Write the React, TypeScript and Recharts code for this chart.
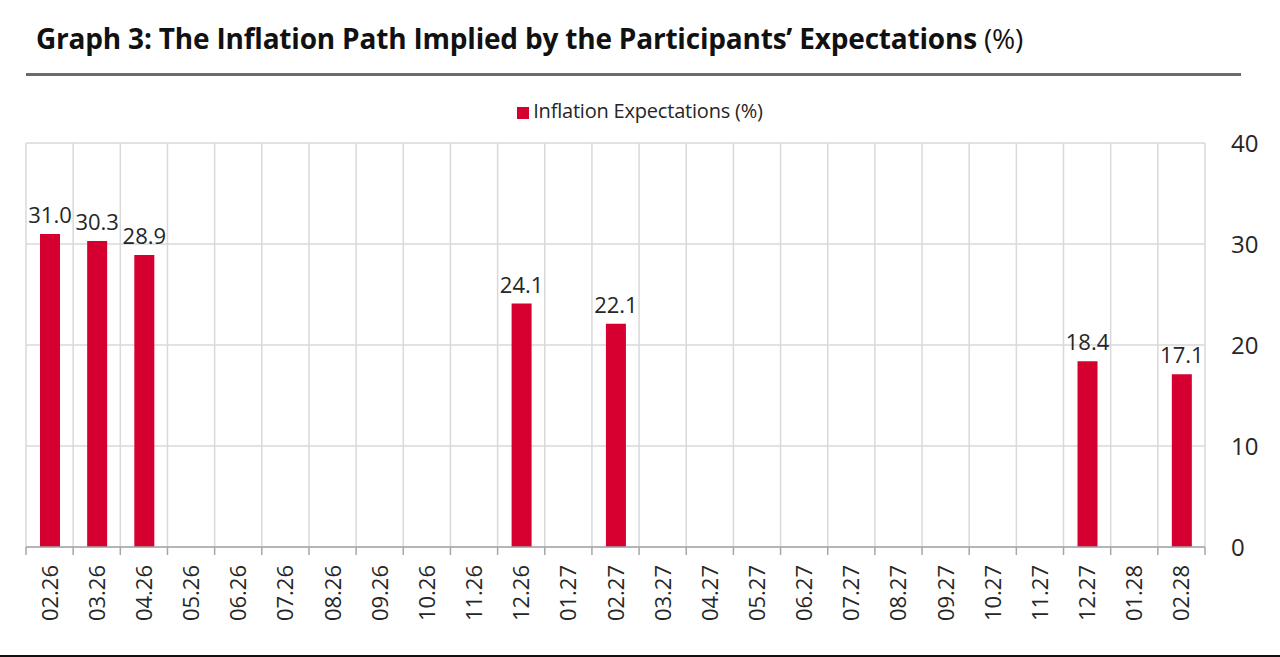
import React from "react";
import { BarChart, Bar, XAxis, YAxis, CartesianGrid, LabelList } from "recharts";

const categories = ["02.26","03.26","04.26","05.26","06.26","07.26","08.26","09.26","10.26","11.26","12.26","01.27","02.27","03.27","04.27","05.27","06.27","07.27","08.27","09.27","10.27","11.27","12.27","01.28","02.28"];
const values: (number | null)[] = [31.0,30.3,28.9,null,null,null,null,null,null,null,24.1,null,22.1,null,null,null,null,null,null,null,null,null,18.4,null,17.1];
const yTicks = [0, 10, 20, 30, 40];
const seriesName = "Inflation Expectations (%)";

const data = categories.map((c, i) => ({ cat: c, v: values[i] }));

const W = 1280;
const H = 657;
const M = { top: 143, right: 20, bottom: 0, left: 26 };
const YW = 55;
const XH = 110;
const plotLeft = M.left;
const plotRight = W - M.right - YW;
const band = (plotRight - plotLeft) / categories.length;
const RED = "#D5002F";
const FONT = "'Open Sans', 'Noto Sans', sans-serif";

const XTick = (props: any) => {
  const { x, y, payload, index } = props;
  const half = band / 2;
  return (
    <g>
      <line x1={x - half} x2={x - half} y1={y - 8} y2={y} stroke="#a6a6a6" strokeWidth={1.5} />
      {index === categories.length - 1 && (
        <line x1={x + half} x2={x + half} y1={y - 8} y2={y} stroke="#a6a6a6" strokeWidth={1.5} />
      )}
      <text
        x={0}
        y={0}
        transform={`translate(${x + 8},${y + 10}) rotate(-90)`}
        textAnchor="end"
        fontSize={22}
        fill="#262626"
        fontFamily={FONT}
      >
        {payload.value}
      </text>
    </g>
  );
};

export default function App() {
  return (
    <div style={{ position: "absolute", left: 0, top: 0, width: W, height: H, background: "#fff", overflow: "hidden" }}>
      <div style={{ position: "absolute", left: 36, top: 19, fontFamily: FONT, fontSize: 28, color: "#111", whiteSpace: "nowrap", letterSpacing: -0.2 }}>
        <span style={{ fontWeight: 700 }}>Graph 3: The Inflation Path Implied by the Participants’ Expectations</span>
        <span style={{ fontWeight: 400 }}> (%)</span>
      </div>
      <div style={{ position: "absolute", left: 26, top: 73, width: 1215, height: 3, background: "#6b6b6b" }} />
      <div style={{ position: "absolute", left: 0, top: 655, width: W, height: 2, background: "#111" }} />
      <div style={{ position: "absolute", left: 0, top: 97, width: W, display: "flex", justifyContent: "center", alignItems: "center", fontFamily: FONT, fontSize: 20, color: "#262626", letterSpacing: -0.2 }}>
        <span style={{ display: "inline-block", width: 12, height: 12, background: RED, marginRight: 4, marginTop: 4 }} />
        <span>{seriesName}</span>
      </div>
      <BarChart width={W} height={H} data={data} margin={M} barSize={20}>
        <CartesianGrid
          stroke="#d9d9d9"
          strokeWidth={1.5}
          horizontal={true}
          vertical={true}
          verticalCoordinatesGenerator={() => categories.map((_, i) => plotLeft + i * band).concat([plotRight])}
        />
        <XAxis
          dataKey="cat"
          interval={0}
          height={XH}
          tickLine={false}
          axisLine={{ stroke: "#a6a6a6", strokeWidth: 1.5 }}
          tick={<XTick />}
        />
        <YAxis
          orientation="right"
          width={YW}
          domain={[0, 40]}
          ticks={yTicks}
          axisLine={false}
          tickLine={false}
          tickMargin={20}
          tick={{ fontSize: 24, fill: "#262626", fontFamily: FONT }}
        />
        <Bar dataKey="v" name={seriesName} fill={RED} isAnimationActive={false}>
          <LabelList
            dataKey="v"
            position="top"
            offset={11}
            formatter={(v: any) => (v == null ? "" : Number(v).toFixed(1))}
            style={{ fontSize: 22, fill: "#262626", fontFamily: FONT }}
          />
        </Bar>
      </BarChart>
    </div>
  );
}
